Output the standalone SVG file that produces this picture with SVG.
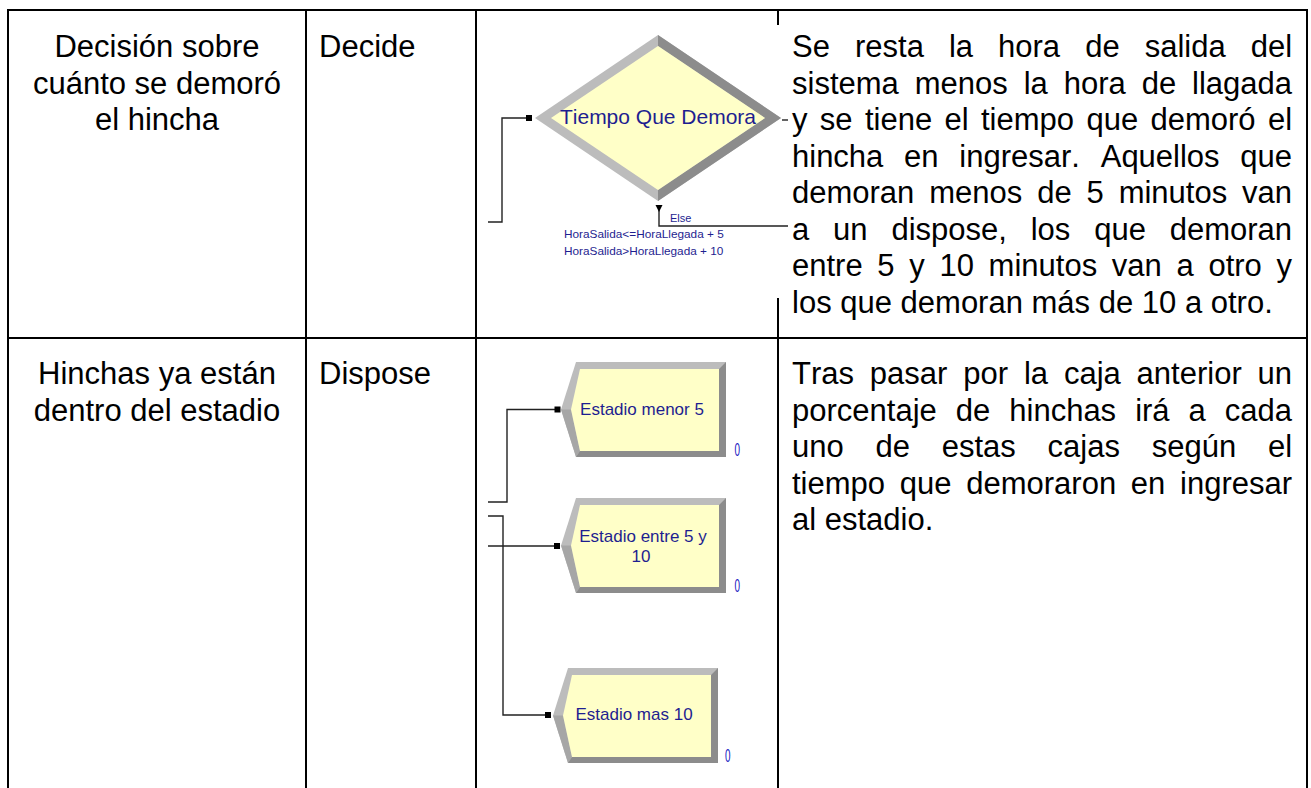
<svg xmlns="http://www.w3.org/2000/svg" width="1311" height="788" viewBox="0 0 1311 788">
<defs>
<style>
.tl{stroke:#000;stroke-width:2;fill:none}
.t{font-family:"Liberation Sans",Arial,sans-serif;font-size:31px;fill:#000;font-kerning:none}
.c{text-anchor:middle}
.lbl{font-family:"Liberation Sans",Arial,sans-serif;fill:#1e1e90;font-kerning:none}
.cnt{font-family:"Liberation Sans",Arial,sans-serif;fill:#1010c0;font-size:18px}
.conn{stroke:#222;stroke-width:1.4;fill:none}
.port{fill:#000}
.lt{fill:#bcbcbc}.dk{fill:#8c8c8c}.md{fill:#a6a6a6}.yl{fill:#ffffc8}
</style>
<g id="disp-shape">
 <polygon class="lt" points="0,0 150,0 150,95 0,95 -15,47.5"/>
 <polygon class="md" points="0,95 -15,47.5 -5,47.5 4,89"/>
 <polygon class="dk" points="150,0 150,95 0,95 4,89 143,89 143,7"/>
 <polygon class="yl" points="4,7 143,7 143,89 4,89 -5,47.5"/>
</g>
</defs>
<rect x="0" y="0" width="1311" height="788" fill="#fff"/>

<g id="table">
 <line class="tl" x1="7" y1="10" x2="1308" y2="10"/>
 <line class="tl" x1="7" y1="338" x2="1308" y2="338"/>
 <line class="tl" x1="8" y1="9" x2="8" y2="788"/>
 <line class="tl" x1="1307" y1="9" x2="1307" y2="788"/>
 <line class="tl" x1="306" y1="10" x2="306" y2="788"/>
 <line class="tl" x1="476" y1="10" x2="476" y2="788"/>
 <line class="tl" x1="778" y1="10" x2="778" y2="25"/>
 <line class="tl" x1="778" y1="298" x2="778" y2="788"/>
</g>

<g id="table-text">
 <text class="t c" x="157" y="57">Decisión sobre</text>
 <text class="t c" x="157" y="93.5">cuánto se demoró</text>
 <text class="t c" x="157" y="130">el hincha</text>
 <text class="t" x="319" y="57">Decide</text>
 <text class="t" x="792" y="57" word-spacing="16.42">Se resta la hora de salida del</text>
 <text class="t" x="792" y="93.5" word-spacing="7.30">sistema menos la hora de llagada</text>
 <text class="t" x="792" y="130" word-spacing="3.74">y se tiene el tiempo que demoró el</text>
 <text class="t" x="792" y="166.5" word-spacing="12.14">hincha en ingresar. Aquellos que</text>
 <text class="t" x="792" y="203" word-spacing="6.27">demoran menos de 5 minutos van</text>
 <text class="t" x="792" y="239.5" word-spacing="15.22">a un dispose, los que demoran</text>
 <text class="t" x="792" y="276" word-spacing="6.07">entre 5 y 10 minutos van a otro y</text>
 <text class="t" x="792" y="312.5">los que demoran más de 10 a otro.</text>

 <text class="t c" x="157" y="384">Hinchas ya están</text>
 <text class="t c" x="157" y="420.5">dentro del estadio</text>
 <text class="t" x="319" y="384">Dispose</text>
 <text class="t" x="792" y="384" word-spacing="7.24">Tras pasar por la caja anterior un</text>
 <text class="t" x="792" y="420.5" word-spacing="10.40">porcentaje de hinchas irá a cada</text>
 <text class="t" x="792" y="457" word-spacing="23.14">uno de estas cajas según el</text>
 <text class="t" x="792" y="493.5" word-spacing="6.11">tiempo que demoraron en ingresar</text>
 <text class="t" x="792" y="530">al estadio.</text>
</g>

<g id="decide">
 <polygon class="lt" points="658,35 781,118 658,201 535,118"/>
 <polygon class="dk" points="658,35 781,118 658,201 658,190 765,118 658,46"/>
 <polygon class="yl" points="658,46 765,118 658,190 551,118"/>
 <text class="lbl" x="658" y="124" font-size="21" text-anchor="middle">Tiempo Que Demora</text>
 <text class="lbl" x="670" y="222" font-size="11">Else</text>
 <text class="lbl" x="564" y="238" font-size="11.8">HoraSalida&lt;=HoraLlegada + 5</text>
 <text class="lbl" x="564" y="255" font-size="11.8">HoraSalida&gt;HoraLlegada + 10</text>
</g>

<g id="dispose1">
 <use href="#disp-shape" transform="translate(576,362)"/>
 <text class="lbl" x="642" y="415" font-size="17" text-anchor="middle">Estadio menor 5</text>
 <text class="cnt" transform="translate(734.5,456) scale(0.55,1)">0</text>
</g>

<g id="dispose2">
 <use href="#disp-shape" transform="translate(576,498)"/>
 <text class="lbl" x="643" y="541.5" font-size="17" text-anchor="middle">Estadio entre 5 y</text>
 <text class="lbl" x="641" y="561.5" font-size="17" text-anchor="middle">10</text>
 <text class="cnt" transform="translate(734.5,592) scale(0.55,1)">0</text>
</g>

<g id="dispose3">
 <use href="#disp-shape" transform="translate(568,668)"/>
 <text class="lbl" x="634" y="720" font-size="17" text-anchor="middle">Estadio mas 10</text>
 <text class="cnt" transform="translate(725,762) scale(0.55,1)">0</text>
</g>

<g id="connectors">
 <path class="conn" d="M488 222 H502 V118 H527"/>
 <path class="conn" d="M488 502 H507 V409.5 H556"/>
 <path class="conn" d="M488 546 H556"/>
 <path class="conn" d="M488 516 H503 V715 H547"/>
 <path class="conn" d="M659 207 V226 H788"/>
 <path class="conn" d="M782 120 H788"/>
 <rect class="port" x="526" y="115" width="6" height="6"/>
 <rect class="port" x="554.5" y="406.5" width="6" height="6"/>
 <rect class="port" x="554" y="543" width="6" height="6"/>
 <rect class="port" x="545" y="712" width="6" height="6"/>
 <polygon class="port" points="655.5,205 662.5,205 659,212"/>
</g>
</svg>
